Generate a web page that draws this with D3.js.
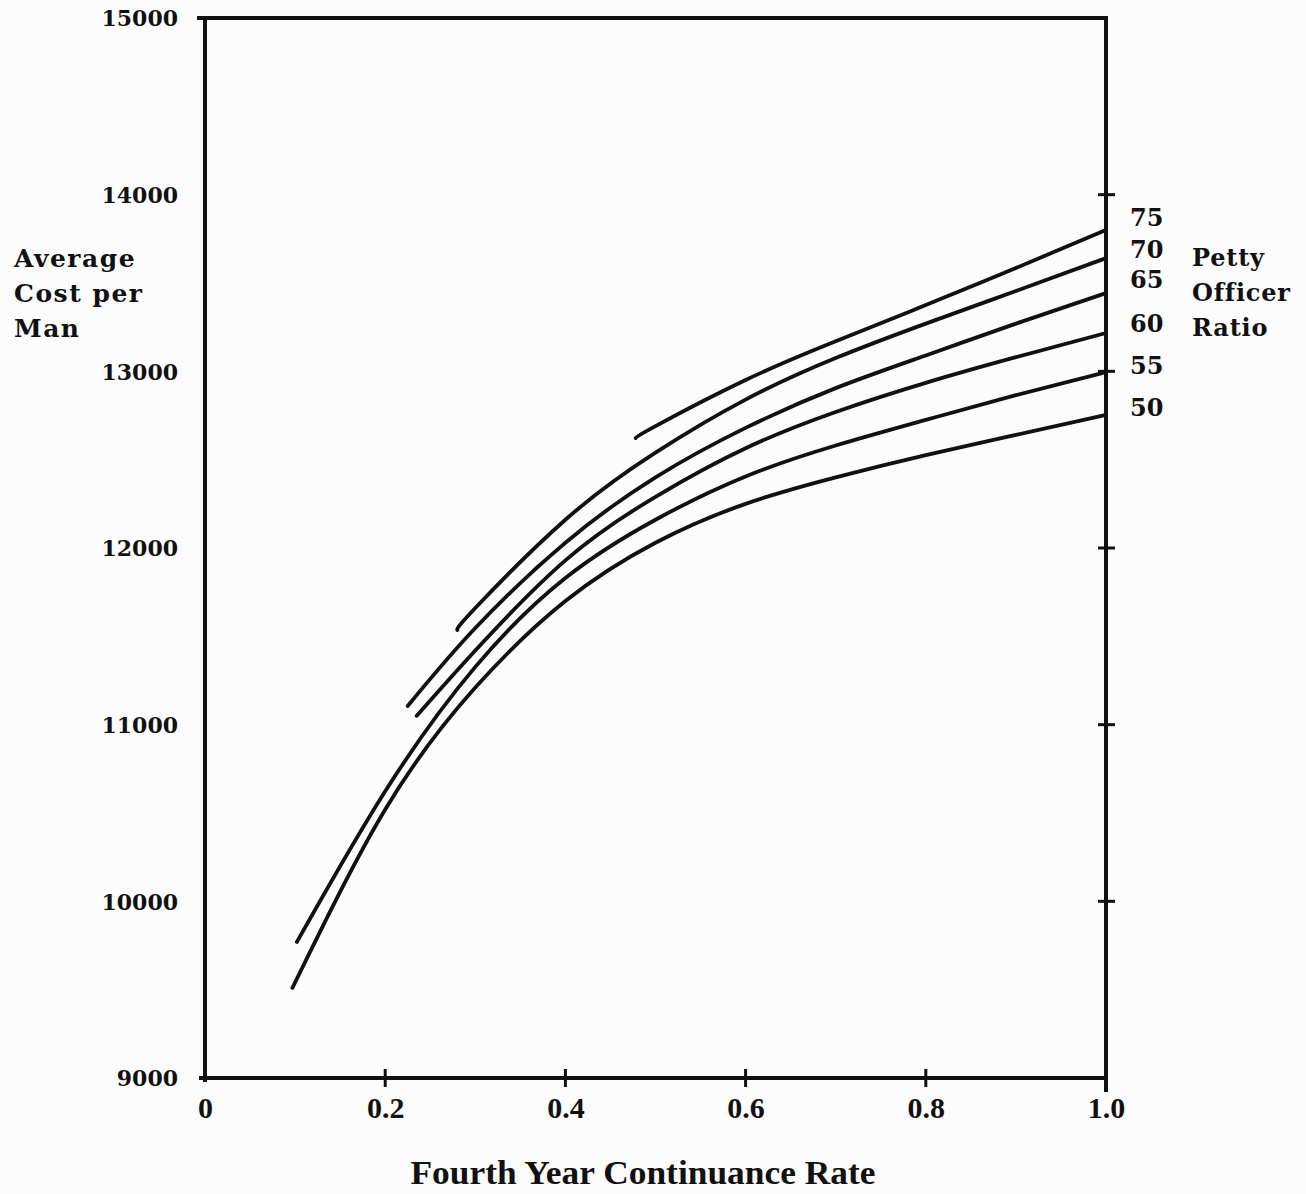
<!DOCTYPE html>
<html>
<head>
<meta charset="utf-8">
<script src="https://cdn.jsdelivr.net/npm/d3@7"></script>
<style>
  html, body { margin: 0; padding: 0; background: #fcfcfc; }
  svg { display: block; }
  text { fill: #111; }
</style>
</head>
<body>
<svg id="chart" width="1306" height="1194"></svg>
<script>
// Average cost per man against fourth-year continuance rate, one curve per petty officer ratio
const ratios = [50, 55, 60, 65, 70, 75];

const rate50 = [0.097, 0.2, 0.3, 0.4, 0.5, 0.6, 0.7, 0.8, 0.9, 1.0];
const cost50 = [9510, 10520, 11210, 11700, 12030, 12250, 12400, 12526, 12640, 12753];

const rate55 = [0.102, 0.2, 0.3, 0.4, 0.5, 0.6, 0.7, 0.8, 0.9, 1.0];
const cost55 = [9770, 10623, 11327, 11830, 12160, 12405, 12580, 12725, 12865, 12996];

const rate60 = [0.235, 0.3, 0.4, 0.5, 0.6, 0.7, 0.8, 0.9, 1.0];
const cost60 = [11050, 11420, 11930, 12290, 12565, 12770, 12935, 13080, 13217];

const rate65 = [0.225, 0.3, 0.4, 0.5, 0.6, 0.7, 0.8, 0.9, 1.0];
const cost65 = [11106, 11547, 12030, 12400, 12680, 12905, 13090, 13270, 13443];

const rate70 = [0.28, 0.3, 0.4, 0.5, 0.6, 0.7, 0.8, 0.9, 1.0];
const cost70 = [11536, 11660, 12160, 12540, 12840, 13075, 13270, 13455, 13641];

const rate75 = [0.478, 0.5, 0.6, 0.7, 0.8, 0.9, 1.0];
const cost75 = [12623, 12690, 12951, 13170, 13375, 13585, 13800];

const seriesRates = [rate50, rate55, rate60, rate65, rate70, rate75];
const seriesCosts = [cost50, cost55, cost60, cost65, cost70, cost75];

// label positions (in cost units) beside the right-hand axis
const ratioLabelCost = [12798, 13036, 13274, 13523, 13692, 13874];

const xTicks = [0, 0.2, 0.4, 0.6, 0.8, 1.0];
const xTickLabels = ["0", "0.2", "0.4", "0.6", "0.8", "1.0"];
const yTicks = [9000, 10000, 11000, 12000, 13000, 14000, 15000];
const rightTicks = [10000, 11000, 12000, 13000, 14000];

const yTitle = ["Average", "Cost per", "Man"];
const legendTitle = ["Petty", "Officer", "Ratio"];
const xTitle = "Fourth Year Continuance Rate";

const svg = d3.select("#chart");
const plotL = 205, plotR = 1106, plotT = 18, plotB = 1078;

const x = d3.scaleLinear().domain([0, 1]).range([plotL, plotR]);
const y = d3.scaleLinear().domain([9000, 15000]).range([plotB, plotT]);

const serif = "'DejaVu Serif', serif";
const cond = "'Liberation Serif', serif";

// frame
const frame = svg.append("g").attr("stroke", "#111").attr("stroke-width", 4).attr("stroke-linecap", "square");
frame.append("line").attr("x1", plotL - 6).attr("x2", plotR).attr("y1", plotT).attr("y2", plotT);
frame.append("line").attr("x1", plotL).attr("x2", plotL).attr("y1", plotT).attr("y2", plotB + 2);
frame.append("line").attr("x1", plotL - 4).attr("x2", plotR).attr("y1", plotB).attr("y2", plotB);
frame.append("line").attr("x1", plotR).attr("x2", plotR).attr("y1", plotT).attr("y2", plotB + 12);

// right-hand tick marks crossing the axis
svg.append("g").selectAll("line").data(rightTicks).join("line")
  .attr("x1", plotR - 8).attr("x2", plotR + 9)
  .attr("y1", d => y(d)).attr("y2", d => y(d))
  .attr("stroke", "#111").attr("stroke-width", 3);

// bottom tick marks crossing the axis
svg.append("g").selectAll("line").data(xTicks.slice(1, -1)).join("line")
  .attr("x1", d => x(d)).attr("x2", d => x(d))
  .attr("y1", plotB - 9).attr("y2", plotB + 9)
  .attr("stroke", "#111").attr("stroke-width", 3);

// y tick labels
const yAxis = d3.axisLeft(y).tickValues(yTicks).tickSize(0).tickPadding(27).tickFormat(d3.format("d"));
const gy = svg.append("g").attr("transform", `translate(${plotL},0)`).call(yAxis);
gy.select(".domain").remove();
gy.selectAll("text").attr("font-family", serif).attr("font-weight", "bold")
  .attr("font-size", 22).attr("fill", "#111").attr("dy", "0.36em");

// x tick labels
const xAxis = d3.axisBottom(x).tickValues(xTicks).tickSize(0).tickPadding(19)
  .tickFormat((d, i) => xTickLabels[i]);
const gx = svg.append("g").attr("transform", `translate(0,${plotB})`).call(xAxis);
gx.select(".domain").remove();
gx.selectAll("text").attr("font-family", cond).attr("font-weight", "bold")
  .attr("font-size", 30).attr("fill", "#111");

// curves
const line = d3.line().x(d => x(d[0])).y(d => y(d[1])).curve(d3.curveNatural);
svg.append("g").selectAll("path").data(ratios).join("path")
  .attr("d", (r, i) => line(d3.zip(seriesRates[i], seriesCosts[i])))
  .attr("fill", "none").attr("stroke", "#111").attr("stroke-width", 3.8)
  .attr("stroke-linecap", "round").attr("stroke-linejoin", "round");

// ratio labels
svg.append("g").selectAll("text").data(ratios).join("text")
  .attr("x", plotR + 24).attr("y", (r, i) => y(ratioLabelCost[i]))
  .attr("dy", "0.36em")
  .attr("font-family", serif).attr("font-weight", "bold").attr("font-size", 24)
  .text(d => d);

// legend title
svg.append("g").selectAll("text").data(legendTitle).join("text")
  .attr("x", 1192).attr("y", (d, i) => 266 + i * 35)
  .attr("font-family", serif).attr("font-weight", "bold").attr("font-size", 24)
  .attr("letter-spacing", 0.8)
  .text(d => d);

// y title
svg.append("g").selectAll("text").data(yTitle).join("text")
  .attr("x", 14).attr("y", (d, i) => 267 + i * 35)
  .attr("font-family", serif).attr("font-weight", "bold").attr("font-size", 25)
  .attr("letter-spacing", 1.5)
  .text(d => d);

// x title
svg.append("text").attr("x", 643).attr("y", 1184).attr("text-anchor", "middle")
  .attr("font-family", cond).attr("font-weight", "bold").attr("font-size", 33)
  .attr("textLength", 465).attr("lengthAdjust", "spacingAndGlyphs")
  .text(xTitle);
</script>
</body>
</html>
